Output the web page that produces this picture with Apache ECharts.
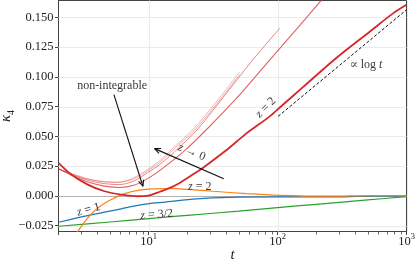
<!DOCTYPE html>
<html><head><meta charset="utf-8">
<script src="https://cdn.jsdelivr.net/npm/echarts@6/dist/echarts.min.js"></script>
<style>html,body{margin:0;padding:0;background:#fff}#c{width:415px;height:262px}</style>
</head><body><div id="c"></div>
<script>
const FONT = '"Liberation Serif", "DejaVu Serif", serif';

// ---- tick definitions ----
const xTickValues = [10, 100, 1000];
const xTickExponents = ['1', '2', '3'];
const xMinorTicks = [3,4,5,6,7,8,9,20,30,40,50,60,70,80,90,200,300,400,500,600,700,800,900];
const yTickValues = [-0.025, 0, 0.025, 0.05, 0.075, 0.1, 0.125, 0.15];
const yTickLabels = ['\u22120.025','0.000','0.025','0.050','0.075','0.100','0.125','0.150'];

// ---- series values (t, kappa4) ----
const tNonIntA = [2, 2.66, 3.48, 4.55, 5.74, 7.12, 8.51, 10.18, 12.18, 15.92, 21.98, 32.57, 50.94];
const kNonIntA = [0.0227, 0.0179, 0.0141, 0.0120, 0.0116, 0.0137, 0.0179, 0.0233, 0.0296, 0.0414, 0.0556, 0.0774, 0.1043];
const tNonIntB = [2, 2.66, 3.48, 4.55, 5.74, 7.12, 8.51, 10.18, 12.18, 15.92, 21.98, 32.57, 50.94];
const kNonIntB = [0.0227, 0.0176, 0.0137, 0.0117, 0.0113, 0.0131, 0.0168, 0.0220, 0.0281, 0.0398, 0.0536, 0.0752, 0.1020];
const tNonIntC = [2, 2.66, 3.48, 4.55, 5.95, 7.78, 9.82, 12.18, 16.80, 24.03, 38.96, 64.3, 104.2];
const kNonIntC = [0.0227, 0.0170, 0.0128, 0.0103, 0.0095, 0.0128, 0.0195, 0.0263, 0.0395, 0.0560, 0.0845, 0.1143, 0.1409];
const tNonIntD = [2, 2.66, 3.48, 4.55, 5.95, 7.78, 9.82, 12.18, 19.04, 29.79, 50.94, 87.1, 138.8, 219.8, 278.7];
const kNonIntD = [0.0227, 0.0162, 0.0112, 0.0082, 0.0070, 0.0091, 0.0145, 0.0212, 0.0380, 0.0585, 0.0850, 0.1143, 0.1395, 0.1647, 0.1781];

const tZ2 = [2, 2.51, 3.37, 4.55, 6.14, 8.26, 10.2, 12.2, 14.5, 17.4, 21, 26.3, 40.2, 57.4, 87, 104, 158, 287, 521, 791, 1000];
const kZ2 = [0.0277, 0.0179, 0.0095, 0.0039, 0.0011, -0.0003, 0.0005, 0.0035, 0.0065, 0.0109, 0.0165, 0.0235, 0.0385, 0.0525, 0.0668, 0.0742, 0.0915, 0.1160, 0.1381, 0.1535, 0.1605];

const tOrange = [2.52, 2.82, 3.38, 4.04, 5.13, 6.51, 8.26, 11.13, 14.5, 17.41, 24, 31.6, 57.4, 104, 255, 521, 1000];
const kOrange = [-0.0367, -0.0297, -0.0185, -0.0101, -0.0031, 0.0019, 0.0047, 0.0059, 0.0062, 0.0059, 0.0049, 0.0039, 0.0019, 0.0005, -0.0002, 0.0003, 0.0002];

const tBlue = [2, 3.37, 6.14, 7.12, 11.13, 12.91, 23.5, 42.6, 104, 255, 521, 1000];
const kBlue = [-0.0221, -0.0165, -0.0109, -0.0092, -0.0059, -0.0054, -0.0025, -0.0012, -0.0008, -0.0008, -0.0003, -0.0003];

const tGreen = [2, 5, 10, 20, 50, 100, 200, 500, 1000];
const kGreen = [-0.0255, -0.0219, -0.0191, -0.0163, -0.0128, -0.0098, -0.0071, -0.0034, -0.0006];

const tLogRef = [101, 1000];
const kLogRef = [0.0668, 0.1563];

// ---- annotations (data coordinates) ----
const annotations = [
  {text: 'non-integrable', t: 5.21, k: 0.0925, rot: 0},
  {text: '{i|z} \u2192 0', t: 21.6, k: 0.0368, rot: -22},
  {text: '{i|z} = 2', t: 81.1, k: 0.0741, rot: 45},
  {text: '\u221D log {i|t}', t: 485.5, k: 0.1101, rot: 0},
  {text: '{i|z} = 2', t: 24.9, k: 0.0078, rot: 0},
  {text: '{i|z} = 1', t: 3.42, k: -0.0115, rot: 15},
  {text: '{i|z} = 3/2', t: 11.54, k: -0.0157, rot: 4}
];
const arrows = [
  {from: [5.38, 0.0850], to: [9.03, 0.0081]},
  {from: [38.26, 0.0145], to: [11.13, 0.0397]}
];

const X_MIN = 2, X_MAX = 1000, Y_MIN = -0.0299, Y_MAX = 0.1641;
const zip = (a, b) => a.map((x, i) => [x, b[i]]);

const chart = echarts.init(document.getElementById('c'), null, {renderer: 'canvas', width: 415, height: 262});

function seg(a, b, stroke, w, crispH) {
  let y1 = a[1], y2 = b[1], x1 = a[0], x2 = b[0];
  if (crispH === 'h') { y1 = y2 = Math.round(y1) + 0.5; }
  if (crispH === 'v') { x1 = x2 = Math.round(x1) + 0.5; }
  return {type: 'line', shape: {x1, y1, x2, y2}, style: {stroke, lineWidth: w}};
}

const lineSeries = (name, t, k, color, width, opacity, z) => ({
  type: 'line', name, data: zip(t, k), showSymbol: false, smooth: 0.3,
  lineStyle: {color, width, opacity}, itemStyle: {color}, z: z || 3, silent: true
});

const option = {
  animation: false,
  backgroundColor: '#fff',
  grid: {left: 58.5, right: 8.5, top: 0.5, bottom: 30.5, containLabel: false, outerBoundsMode: 'none',
         show: true, borderColor: '#444', borderWidth: 1, backgroundColor: 'transparent'},
  xAxis: {
    type: 'log', logBase: 10, min: X_MIN, max: X_MAX,
    name: 't', nameLocation: 'middle', nameGap: 16, nameMoveOverlap: false,
    nameTextStyle: {fontFamily: FONT, fontStyle: 'italic', fontSize: 15, color: '#222'},
    axisLine: {show: true, onZero: false, lineStyle: {color: '#444', width: 1}},
    axisTick: {show: true, inside: false, length: 3.5, lineStyle: {color: '#444', width: 1}},
    splitLine: {show: false}, minorTick: {show: false},
    axisLabel: {
      margin: 1, color: '#222',
      formatter: (val) => {
        const i = xTickValues.findIndex(v => Math.abs(v - val) < 1e-6 * v);
        return i < 0 ? '' : '{b|10}{s|' + xTickExponents[i] + '}';
      },
      rich: {
        b: {fontFamily: FONT, fontSize: 12.5, color: '#222', lineHeight: 16, verticalAlign: 'bottom'},
        s: {fontFamily: FONT, fontSize: 8.5, color: '#222', lineHeight: 16, verticalAlign: 'top'}
      }
    }
  },
  yAxis: {
    type: 'value', min: Y_MIN, max: Y_MAX,
    name: '{k|\u03BA}{s|4}', nameLocation: 'middle', nameGap: 42, nameRotate: 90, nameMoveOverlap: false,
    nameTextStyle: {rich: {
      k: {fontFamily: FONT, fontStyle: 'italic', fontSize: 15, color: '#222'},
      s: {fontFamily: FONT, fontSize: 10, color: '#222', verticalAlign: 'bottom', lineHeight: 20}
    }},
    axisLine: {show: true, onZero: false, lineStyle: {color: '#444', width: 1}},
    axisTick: {show: true, inside: false, length: 3.5, customValues: yTickValues, lineStyle: {color: '#444', width: 1}},
    splitLine: {show: false},
    axisLabel: {
      customValues: yTickValues, margin: 5, fontFamily: FONT, fontSize: 12.5, color: '#222',
      formatter: (val) => {
        const i = yTickValues.findIndex(v => Math.abs(v - val) < 1e-9);
        return i < 0 ? '' : yTickLabels[i];
      }
    }
  },
  series: [
    {
      type: 'custom', name: 'decor', coordinateSystem: 'cartesian2d', data: [[10, 0]], silent: true, z: 1, clip: false,
      renderItem: (params, api) => {
        if (params.dataIndex !== 0) return;
        const ch = [];
        yTickValues.forEach(v => ch.push(seg(api.coord([X_MIN, v]), api.coord([X_MAX, v]), '#ebebeb', 1, 'h')));
        xTickValues.forEach(t => ch.push(seg(api.coord([t, Y_MIN]), api.coord([t, Y_MAX]), '#ebebeb', 1, 'v')));
        ch.push(seg(api.coord([X_MIN, 0]), api.coord([X_MAX, 0]), '#b0b0b0', 1, 'h'));
        xMinorTicks.forEach(t => {
          const p = api.coord([t, Y_MIN]);
          const x = Math.round(p[0]) + 0.5, y = Math.round(p[1]);
          ch.push({type: 'line', shape: {x1: x, y1: y, x2: x, y2: y + 2.5}, style: {stroke: '#444', lineWidth: 0.8}});
        });
        return {type: 'group', children: ch};
      }
    },
    lineSeries('nonA', tNonIntA, kNonIntA, '#d62728', 1, 0.33),
    lineSeries('nonB', tNonIntB, kNonIntB, '#d62728', 1, 0.38),
    lineSeries('nonC', tNonIntC, kNonIntC, '#d62728', 1, 0.55),
    lineSeries('nonD', tNonIntD, kNonIntD, '#d62728', 1.1, 0.72),
    lineSeries('z=1', tBlue, kBlue, '#1f77b4', 1.2, 1),
    lineSeries('z=3/2', tGreen, kGreen, '#2ca02c', 1.2, 1),
    lineSeries('z=2 int', tOrange, kOrange, '#ff7f0e', 1.2, 1),
    lineSeries('z=2', tZ2, kZ2, '#d62728', 1.8, 1, 4),
    {
      type: 'line', name: 'logref', data: zip(tLogRef, kLogRef), showSymbol: false, silent: true, z: 4,
      lineStyle: {color: '#111', width: 1, type: [3, 2]}
    },
    {
      type: 'custom', name: 'annot', coordinateSystem: 'cartesian2d', data: [[10, 0]], silent: true, z: 10, clip: false,
      renderItem: (params, api) => {
        if (params.dataIndex !== 0) return;
        const ch = [];
        arrows.forEach(a => {
          const p0 = api.coord(a.from), p1 = api.coord(a.to);
          ch.push({type: 'line', shape: {x1: p0[0], y1: p0[1], x2: p1[0], y2: p1[1]}, style: {stroke: '#111', lineWidth: 1.1}});
          const ang = Math.atan2(p1[1] - p0[1], p1[0] - p0[0]);
          const L = 6.5, w = 0.42;
          [ang + Math.PI - w, ang + Math.PI + w].forEach(a2 => ch.push({
            type: 'line', shape: {x1: p1[0], y1: p1[1], x2: p1[0] + L * Math.cos(a2), y2: p1[1] + L * Math.sin(a2)},
            style: {stroke: '#111', lineWidth: 1.1}
          }));
        });
        annotations.forEach(a => {
          const p = api.coord([a.t, a.k]);
          ch.push({
            type: 'text', x: p[0], y: p[1], rotation: a.rot * Math.PI / 180,
            style: {
              text: a.text, fontFamily: FONT, fontSize: 12, fill: '#3a3a3a',
              align: 'center', verticalAlign: 'middle',
              rich: {i: {fontFamily: FONT, fontStyle: 'italic', fontSize: 12, fill: '#3a3a3a'}}
            }
          });
        });
        return {type: 'group', children: ch};
      }
    }
  ]
};
chart.setOption(option);
</script>
</body></html>
